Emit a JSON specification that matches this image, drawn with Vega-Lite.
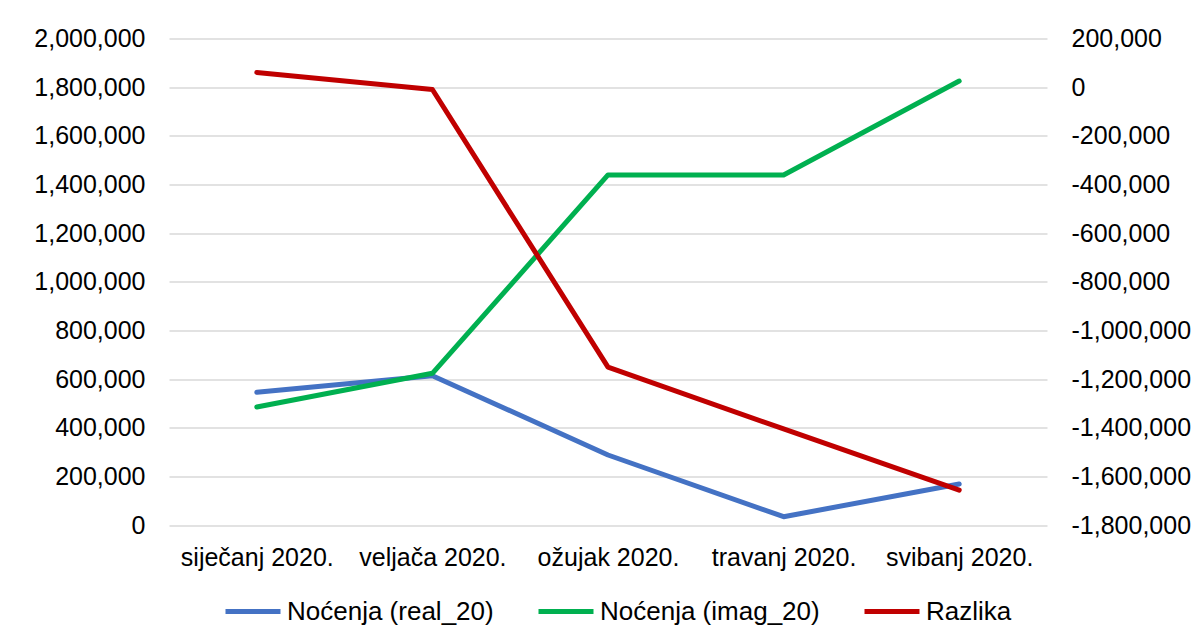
{
  "$schema": "https://vega.github.io/schema/vega-lite/v6.json",
  "autosize": "none",
  "width": 878,
  "height": 486.5,
  "padding": {"left": 169, "top": 38.5, "right": 156, "bottom": 119},
  "background": "white",
  "config": {
    "view": {"stroke": null},
    "font": "Liberation Sans",
    "axis": {"labelFont": "Liberation Sans", "labelFontSize": 25, "labelColor": "#000000", "ticks": false, "domain": false, "title": null},
    "legend": {"labelFont": "Liberation Sans", "labelFontSize": 26, "labelColor": "#000000", "labelLimit": 0}
  },
  "data": {
    "values": [
      {"month": "siječanj 2020.", "series": "Noćenja (real_20)", "value": 545500},
      {"month": "veljača 2020.", "series": "Noćenja (real_20)", "value": 613800},
      {"month": "ožujak 2020.", "series": "Noćenja (real_20)", "value": 287800},
      {"month": "travanj 2020.", "series": "Noćenja (real_20)", "value": 34000},
      {"month": "svibanj 2020.", "series": "Noćenja (real_20)", "value": 168600},
      {"month": "siječanj 2020.", "series": "Noćenja (imag_20)", "value": 485000},
      {"month": "veljača 2020.", "series": "Noćenja (imag_20)", "value": 623600},
      {"month": "ožujak 2020.", "series": "Noćenja (imag_20)", "value": 1439000},
      {"month": "travanj 2020.", "series": "Noćenja (imag_20)", "value": 1439000},
      {"month": "svibanj 2020.", "series": "Noćenja (imag_20)", "value": 1825000},
      {"month": "siječanj 2020.", "series": "Razlika", "value": 60500},
      {"month": "veljača 2020.", "series": "Razlika", "value": -9800},
      {"month": "ožujak 2020.", "series": "Razlika", "value": -1151200},
      {"month": "travanj 2020.", "series": "Razlika", "value": -1405000},
      {"month": "svibanj 2020.", "series": "Razlika", "value": -1656400}
    ]
  },
  "encoding": {
    "x": {
      "field": "month",
      "type": "nominal",
      "sort": ["siječanj 2020.", "veljača 2020.", "ožujak 2020.", "travanj 2020.", "svibanj 2020."],
      "scale": {"type": "point", "padding": 0.5},
      "axis": {"labelAngle": 0, "labelPadding": 20, "grid": false}
    },
    "color": {
      "field": "series",
      "type": "nominal",
      "scale": {
        "domain": ["Noćenja (real_20)", "Noćenja (imag_20)", "Razlika"],
        "range": ["#4472C4", "#00B050", "#C00000"]
      },
      "legend": {
        "title": null,
        "orient": "none",
        "direction": "horizontal",
        "legendX": 54,
        "legendY": 543,
        "symbolType": "stroke",
        "symbolSize": 3025,
        "symbolStrokeWidth": 5,
        "labelOffset": 4,
        "columnPadding": 34,
        "labelLimit": 0
      }
    }
  },
  "layer": [
    {
      "transform": [{"filter": "datum.series !== 'Razlika'"}],
      "mark": {"type": "line", "strokeWidth": 5, "strokeJoin": "round", "strokeCap": "round"},
      "encoding": {
        "y": {
          "field": "value",
          "type": "quantitative",
          "scale": {"domain": [0, 2000000], "nice": false},
          "axis": {
            "orient": "left",
            "values": [0, 200000, 400000, 600000, 800000, 1000000, 1200000, 1400000, 1600000, 1800000, 2000000],
            "format": ",d",
            "labelPadding": 24,
            "grid": true,
            "gridColor": "#D9D9D9",
            "gridWidth": 1.5
          }
        }
      }
    },
    {
      "transform": [{"filter": "datum.series === 'Razlika'"}],
      "mark": {"type": "line", "strokeWidth": 5, "strokeJoin": "round", "strokeCap": "round"},
      "encoding": {
        "y": {
          "field": "value",
          "type": "quantitative",
          "scale": {"domain": [-1800000, 200000], "nice": false, "zero": false},
          "axis": {
            "orient": "right",
            "values": [-1800000, -1600000, -1400000, -1200000, -1000000, -800000, -600000, -400000, -200000, 0, 200000],
            "labelExpr": "replace(format(datum.value, ',d'), '\u2212', '-')",
            "labelPadding": 24,
            "grid": false
          }
        }
      }
    }
  ],
  "resolve": {"scale": {"y": "independent"}}
}
